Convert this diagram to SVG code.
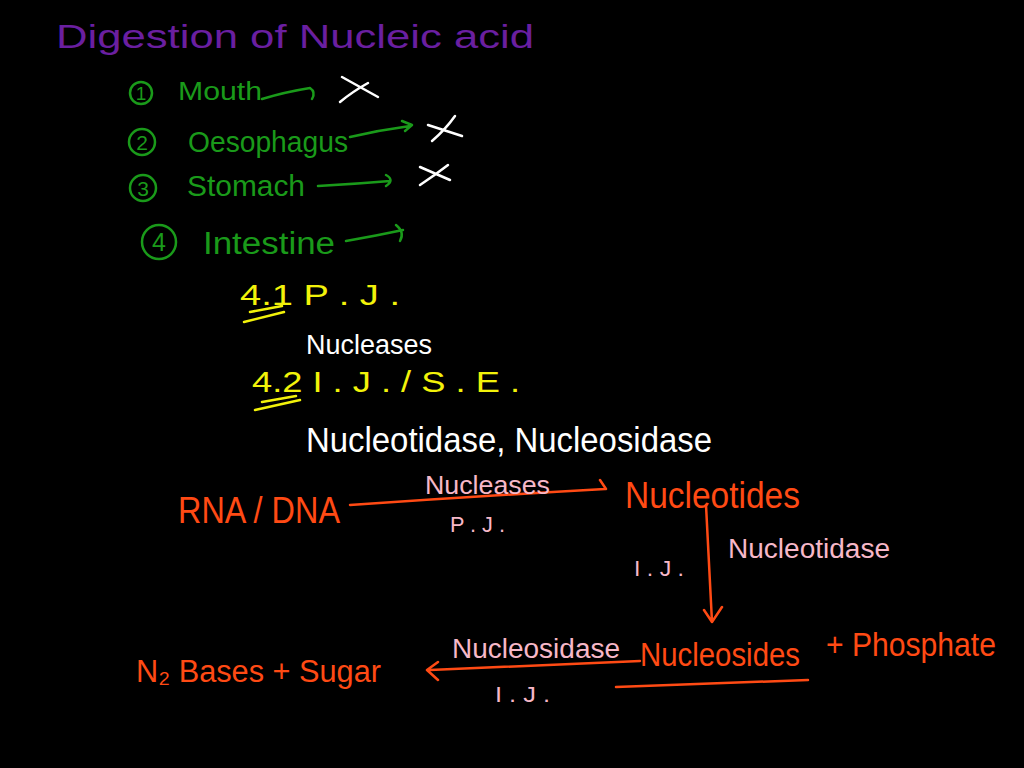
<svg xmlns="http://www.w3.org/2000/svg" width="1024" height="768" viewBox="0 0 1024 768">
<style>
text{font-family:"Liberation Sans","DejaVu Sans",sans-serif;}
.pu{fill:#6a1fa0;}
.gr{fill:#1a9a1a;}
.wh{fill:#ffffff;}
.ye{fill:#f2f20a;}
.or{fill:#ff4a14;}
.pk{fill:#f7b8c8;}
.gs{stroke:#1a9a1a;stroke-width:2.5;fill:none;stroke-linecap:round;stroke-linejoin:round;}
.ws{stroke:#ffffff;stroke-width:2.5;fill:none;stroke-linecap:round;}
.ys{stroke:#f2f20a;stroke-width:2.5;fill:none;stroke-linecap:round;}
.os{stroke:#ff4a14;stroke-width:2.5;fill:none;stroke-linecap:round;stroke-linejoin:round;}
</style>
<rect width="1024" height="768" fill="#000"/>
<text class="pu" x="56" y="48" font-size="34" textLength="478" lengthAdjust="spacingAndGlyphs">Digestion of  Nucleic  acid</text>

<g id="mouth">
<circle class="gs" cx="141" cy="93" r="11"/>
<text class="gr" x="141" y="100" font-size="19" text-anchor="middle">1</text>
<text class="gr" x="178" y="100" font-size="25" textLength="84" lengthAdjust="spacingAndGlyphs">Mouth</text>
</g>
<g id="oesophagus">
<circle class="gs" cx="142" cy="142" r="13"/>
<text class="gr" x="142" y="150" font-size="21" text-anchor="middle">2</text>
<text class="gr" x="188" y="152" font-size="29" textLength="160" lengthAdjust="spacingAndGlyphs">Oesophagus</text>
</g>
<g id="stomach">
<circle class="gs" cx="143" cy="188" r="13"/>
<text class="gr" x="143" y="196" font-size="21" text-anchor="middle">3</text>
<text class="gr" x="187" y="196" font-size="29" textLength="118" lengthAdjust="spacingAndGlyphs">Stomach</text>
</g>
<g id="intestine">
<circle class="gs" cx="159" cy="242" r="17"/>
<text class="gr" x="159" y="251" font-size="25" text-anchor="middle">4</text>
<text class="gr" x="203" y="254" font-size="31" textLength="132" lengthAdjust="spacingAndGlyphs">Intestine</text>
</g>
<g id="crosses">
<path class="ws" d="M342 77 L378 97 M368 83 Q352 92 340 102"/>
<path class="ws" d="M428 125 L462 136 M455 116 Q445 130 432 141"/>
<path class="ws" d="M420 167 L450 180 M448 165 Q435 175 420 185"/>
</g>

<g id="pj">
<text class="ye" x="240" y="305" font-size="29" textLength="160" lengthAdjust="spacingAndGlyphs">4.1  P . J .</text>
<path class="ys" d="M250 312 L282 306 M244 322 L284 312"/>
</g>
<text class="wh" x="306" y="354" font-size="27" textLength="126" lengthAdjust="spacingAndGlyphs">Nucleases</text>
<g id="ij">
<text class="ye" x="252" y="392" font-size="29" textLength="268" lengthAdjust="spacingAndGlyphs">4.2  I . J .  /  S . E .</text>
<path class="ys" d="M262 402 L296 396 M255 410 L300 400"/>
</g>
<text class="wh" x="306" y="452" font-size="35" textLength="406" lengthAdjust="spacingAndGlyphs">Nucleotidase,  Nucleosidase</text>

<g id="rna-dna"><text class="or" x="178" y="523" font-size="37" textLength="162" lengthAdjust="spacingAndGlyphs">RNA / DNA</text></g>
<g id="nucleotides"><text class="or" x="625" y="508" font-size="37" textLength="175" lengthAdjust="spacingAndGlyphs">Nucleotides</text></g>
<g id="nucleosides">
<text class="or" x="640" y="666" font-size="33" textLength="160" lengthAdjust="spacingAndGlyphs">Nucleosides</text>
<text class="or" x="826" y="656" font-size="33" textLength="170" lengthAdjust="spacingAndGlyphs">+  Phosphate</text>
</g>
<g id="bases-sugar"><text class="or" x="136" y="682" font-size="31" textLength="245" lengthAdjust="spacingAndGlyphs">N₂ Bases + Sugar</text></g>

<g id="connectors">
<path class="gs" d="M262 99 Q285 92 310 88 Q316 92 312 99"/>
<path class="gs" d="M350 137 Q380 130 410 126 M402 121 L412 125 L405 131"/>
<path class="gs" d="M318 186 Q355 184 390 181 M386 175 Q395 180 386 186"/>
<path class="gs" d="M346 241 Q375 236 403 230 M396 225 Q405 232 400 241"/>
<path class="os" d="M350 505 Q480 496 605 489 M600 480 L606 489"/>
<path class="os" d="M706 505 L712 622 M704 610 L712 622 L722 607"/>
<path class="os" d="M640 661 L430 670 M438 662 L427 670 L438 680"/>
<path class="os" d="M616 687 Q710 684 808 680"/>
</g>
<g id="labels">
<text class="pk" x="425" y="494" font-size="25" textLength="125" lengthAdjust="spacingAndGlyphs">Nucleases</text>
<text class="pk" x="450" y="532" font-size="22" textLength="55" lengthAdjust="spacingAndGlyphs">P . J .</text>
<text class="pk" x="634" y="576" font-size="22" textLength="50" lengthAdjust="spacingAndGlyphs">I . J .</text>
<text class="pk" x="728" y="558" font-size="27" textLength="162" lengthAdjust="spacingAndGlyphs">Nucleotidase</text>
<text class="pk" x="452" y="658" font-size="27" textLength="168" lengthAdjust="spacingAndGlyphs">Nucleosidase</text>
<text class="pk" x="495" y="702" font-size="22" textLength="55" lengthAdjust="spacingAndGlyphs">I . J .</text>
</g>
</svg>
